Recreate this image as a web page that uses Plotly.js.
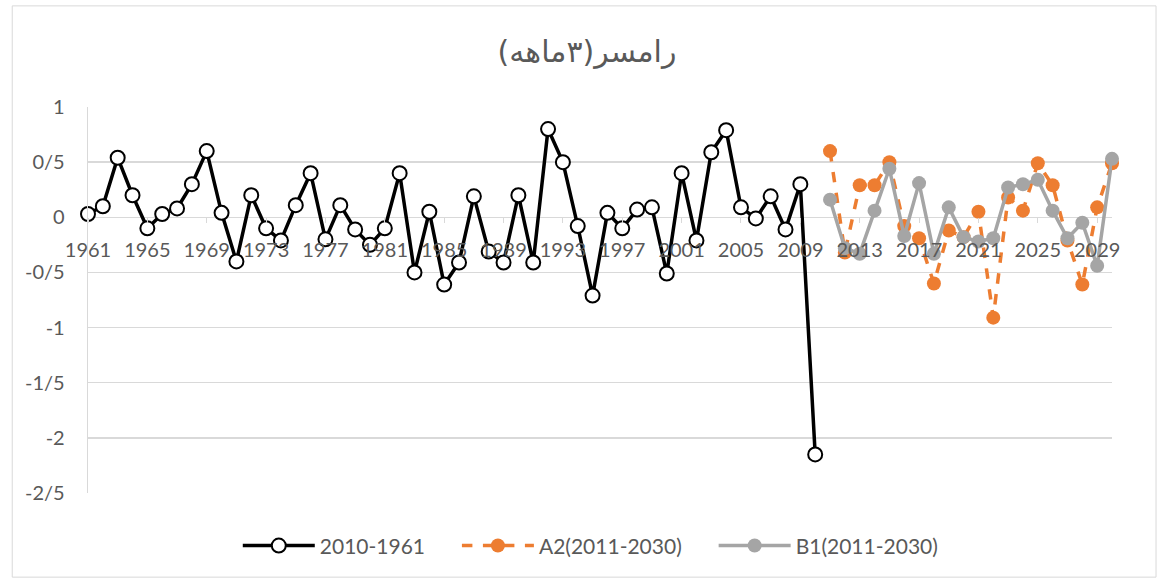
<!DOCTYPE html>
<html>
<head>
<meta charset="utf-8">
<script src="https://cdn.plot.ly/plotly-3.0.1.min.js"></script>
<style>html,body{margin:0;padding:0;background:#fff;}#chart{width:1158px;height:581px;}</style>
</head>
<body>
<div id="chart"></div>
<script>
// Observed series 1961-2010
const obsYears = [1961,1962,1963,1964,1965,1966,1967,1968,1969,1970,
  1971,1972,1973,1974,1975,1976,1977,1978,1979,1980,
  1981,1982,1983,1984,1985,1986,1987,1988,1989,1990,
  1991,1992,1993,1994,1995,1996,1997,1998,1999,2000,
  2001,2002,2003,2004,2005,2006,2007,2008,2009,2010];
const obsValues = [0.03,0.1,0.54,0.2,-0.1,0.03,0.08,0.3,0.6,0.04,
  -0.4,0.2,-0.1,-0.21,0.11,0.4,-0.2,0.11,-0.11,-0.25,
  -0.1,0.4,-0.5,0.05,-0.61,-0.41,0.19,-0.31,-0.41,0.2,
  -0.41,0.8,0.5,-0.08,-0.71,0.04,-0.1,0.07,0.09,-0.51,
  0.4,-0.21,0.59,0.79,0.09,-0.01,0.19,-0.11,0.3,-2.15];
// Scenario years 2011-2030
const scenYears = [2011,2012,2013,2014,2015,2016,2017,2018,2019,2020,
  2021,2022,2023,2024,2025,2026,2027,2028,2029,2030];
const a2Values = [0.6,-0.32,0.29,0.29,0.5,-0.08,-0.19,-0.6,-0.12,-0.18,
  0.05,-0.91,0.18,0.06,0.49,0.29,-0.21,-0.61,0.09,0.49];
const b1Values = [0.16,-0.28,-0.33,0.06,0.44,-0.17,0.31,-0.33,0.09,-0.18,
  -0.22,-0.19,0.27,0.3,0.34,0.06,-0.19,-0.05,-0.44,0.53];
const seriesNames = ['2010-1961','A2(2011-2030)','B1(2011-2030)'];
const titleText = 'رامسر(۳ماهه)';
const xTickVals = [1961,1965,1969,1973,1977,1981,1985,1989,1993,1997,2001,2005,2009,2013,2017,2021,2025,2029];
const yTickVals = [1,0.5,0,-0.5,-1,-1.5,-2,-2.5];
const yTickText = ['1','0/5','0','-0/5','-1','-1/5','-2','-2/5'];

const txt = '#595959';
const grid = '#d9d9d9';
const fnt = 'Lato, "Liberation Sans", sans-serif';
const pad = '\u00a0'.repeat(5);

const traces = [
  {x: obsYears, y: obsValues, name: seriesNames[0] + pad, type: 'scatter', mode: 'lines+markers',
   cliponaxis: false,
   line: {color: '#000000', width: 3.5},
   marker: {symbol: 'circle', size: 14, color: '#ffffff', line: {color: '#000000', width: 2}}},
  {x: scenYears, y: a2Values, name: seriesNames[1] + pad, type: 'scatter', mode: 'lines+markers',
   cliponaxis: false,
   line: {color: '#ED7D31', width: 3.5, dash: 'dash'},
   marker: {symbol: 'circle', size: 14, color: '#ED7D31'}},
  {x: scenYears, y: b1Values, name: seriesNames[2], type: 'scatter', mode: 'lines+markers',
   cliponaxis: false,
   line: {color: '#A5A5A5', width: 3.5},
   marker: {symbol: 'circle', size: 14, color: '#A5A5A5'}}
];

const layout = {
  width: 1158, height: 581,
  paper_bgcolor: '#ffffff', plot_bgcolor: '#ffffff',
  margin: {l: 88, r: 46, t: 107, b: 88},
  title: {text: titleText, font: {family: '"DejaVu Sans", sans-serif', size: 30, color: txt},
          x: 587/1158, xref: 'container', xanchor: 'center', y: 1 - 51/581, yref: 'container', yanchor: 'middle'},
  xaxis: {range: [1961, 2030], tickmode: 'array', tickvals: xTickVals,
          anchor: 'free', position: 2.5/3.5, showgrid: false, zeroline: false, showline: false,
          ticks: 'outside', ticklen: 5, tickcolor: grid, tickwidth: 1,
          ticklabelstandoff: 10,
          tickfont: {family: fnt, size: 20, color: txt}},
  yaxis: {range: [-2.5, 1], tickmode: 'array', tickvals: yTickVals, ticktext: yTickText,
          showgrid: true, gridcolor: grid, gridwidth: 1.3, zeroline: false,
          showline: true, linecolor: grid, linewidth: 1.3, ticks: '',
          ticklabelstandoff: 18,
          tickfont: {family: fnt, size: 20, color: txt}},
  showlegend: true,
  legend: {orientation: 'h', x: 0.491, xanchor: 'center', y: -0.137, yanchor: 'middle',
           font: {family: fnt, size: 21, color: txt}, itemwidth: 72, traceorder: 'normal'},
  shapes: [{type: 'rect', xref: 'paper', yref: 'paper', x0: -0.074, x1: 1.043, y0: -0.218, y1: 1.262,
            line: {color: grid, width: 1}, fillcolor: 'rgba(0,0,0,0)', layer: 'below'}]
};

Plotly.newPlot('chart', traces, layout, {displayModeBar: false, staticPlot: true});
</script>
</body>
</html>
